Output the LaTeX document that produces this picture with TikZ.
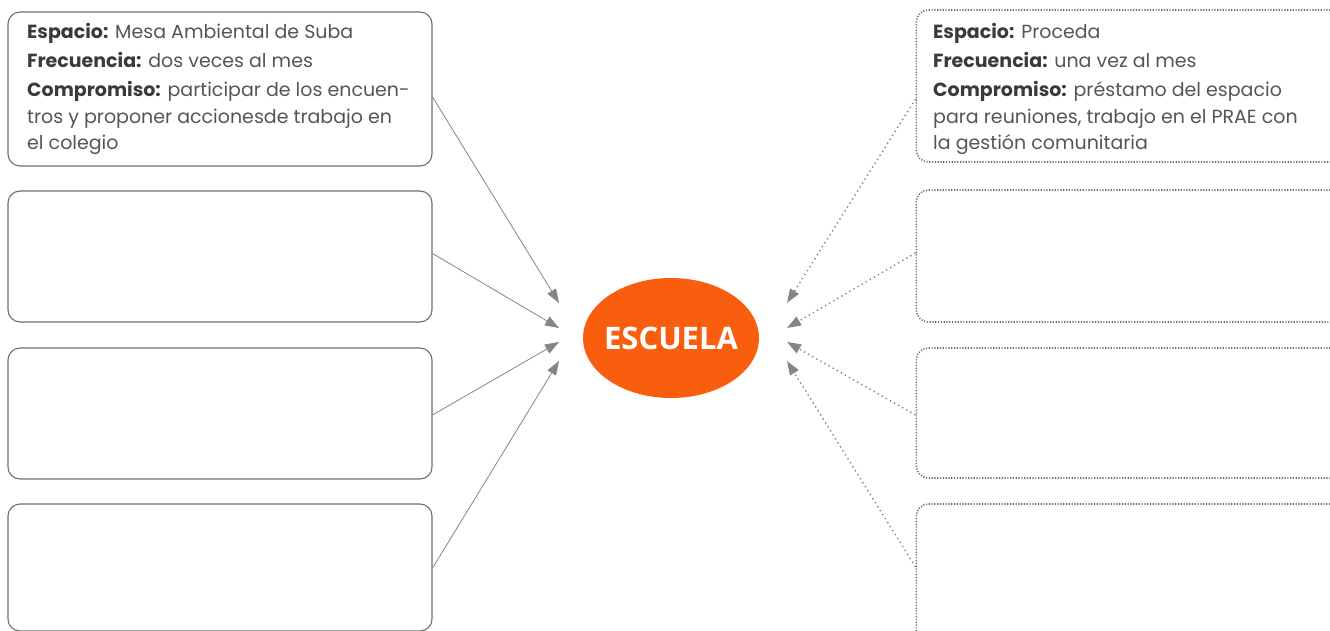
\documentclass[tikz,border=0pt]{standalone}
\usepackage{fontspec}
\setmainfont{Open Sans}
\newfontfamily\boxfont{Poppins}
\usetikzlibrary{arrows.meta,shapes.geometric,calc}
\definecolor{boxgray}{HTML}{6E6E6E}
\definecolor{arrgray}{HTML}{858585}
\definecolor{txtgray}{HTML}{555555}
\definecolor{lblgray}{HTML}{3A3A3A}
\definecolor{escorange}{HTML}{F95E0F}
\tikzset{
  solidbox/.style={draw=boxgray, line width=1.1pt, rounded corners=12pt, inner sep=0pt},
  dotbox/.style={draw=boxgray, line width=1.6pt, rounded corners=12pt, inner sep=0pt, dash pattern=on 1.2pt off 1.6pt},
  solidarrow/.style={draw=arrgray, line width=0.8pt, -{Triangle[length=14pt,width=10pt]}},
  dotarrow/.style={draw=arrgray, line width=1.5pt, dash pattern=on 1.3pt off 3.4pt, -{Triangle[length=14pt,width=10pt,fill=arrgray]}},
  boxtext/.style={anchor=base west, align=left, inner sep=0pt, text=txtgray, font=\boxfont\fontsize{19}{26.5}\selectfont}
}
\newcommand{\lab}[1]{\textcolor{lblgray}{\bfseries #1}}
\begin{document}
\begin{tikzpicture}[x=1pt,y=-1pt]
\useasboundingbox (0,0) rectangle (1330,631);
\clip (0,0) rectangle (1330,631);
% left boxes
\node[solidbox, minimum width=424pt, minimum height=154pt] (L1) at (220,89) {};
\node[solidbox, minimum width=424pt, minimum height=131pt] (L2) at (220,256.5) {};
\node[solidbox, minimum width=424pt, minimum height=131pt] (L3) at (220,413.5) {};
\node[solidbox, minimum width=424pt, minimum height=127pt] (L4) at (220,567.5) {};
% right boxes
\node[dotbox, minimum width=440pt, minimum height=152pt, anchor=west] (R1) at (915.5,86) {};
\node[dotbox, minimum width=440pt, minimum height=132pt, anchor=west] (R2) at (915.5,256) {};
\node[dotbox, minimum width=440pt, minimum height=130pt, anchor=west] (R3) at (915.5,413) {};
\node[dotbox, minimum width=440pt, minimum height=140pt, anchor=west] (R4) at (915.5,574) {};
% centre
\node[ellipse, fill=escorange, minimum width=176pt, minimum height=120pt, inner sep=0pt] (E) at (671,338) {};
\node[text=white, inner sep=0pt, font=\fontsize{31}{36}\selectfont\bfseries] (Elabel) at (E.center) {ESCUELA};
% texts (anchored at the baseline of the last line)
\node[boxtext] (T1) at (27,150) {\lab{Espacio:} Mesa Ambiental de Suba\\[2.5pt]
\lab{Frecuencia:} dos veces al mes\\[2.5pt]
\lab{Compromiso:} participar de los encuen-\\
tros y proponer accionesde trabajo en\\
el colegio};
\node[boxtext] (T2) at (933,150) {\lab{Espacio:} Proceda\\[2.5pt]
\lab{Frecuencia:} una vez al mes\\[2.5pt]
\lab{Compromiso:} préstamo del espacio\\
para reuniones, trabajo en el PRAE con\\
la gestión comunitaria};
% tips
\coordinate (a1) at (559,303);
\coordinate (a2) at (559,328);
\coordinate (a3) at (559,342);
\coordinate (a4) at (559,361);
\coordinate (b1) at (787,303);
\coordinate (b2) at (787,328);
\coordinate (b3) at (787,342);
\coordinate (b4) at (787,361);
% left arrows
\draw[solidarrow] ([yshift=-8pt]L1.east) -- (a1);
\draw[solidarrow] ([yshift=3pt]L2.east) -- (a2);
\draw[solidarrow] ([yshift=-1.5pt]L3.east) -- (a3);
\draw[solidarrow] ([yshift=-0.5pt]L4.east) -- (a4);
% right arrows
\draw[dotarrow] ([yshift=-13pt]R1.west) -- (b1);
\draw[dotarrow] ([yshift=3pt]R2.west) -- (b2);
\draw[dotarrow] ([yshift=-2pt]R3.west) -- (b3);
\draw[dotarrow] ([yshift=7pt]R4.west) -- (b4);
\end{tikzpicture}
\end{document}
